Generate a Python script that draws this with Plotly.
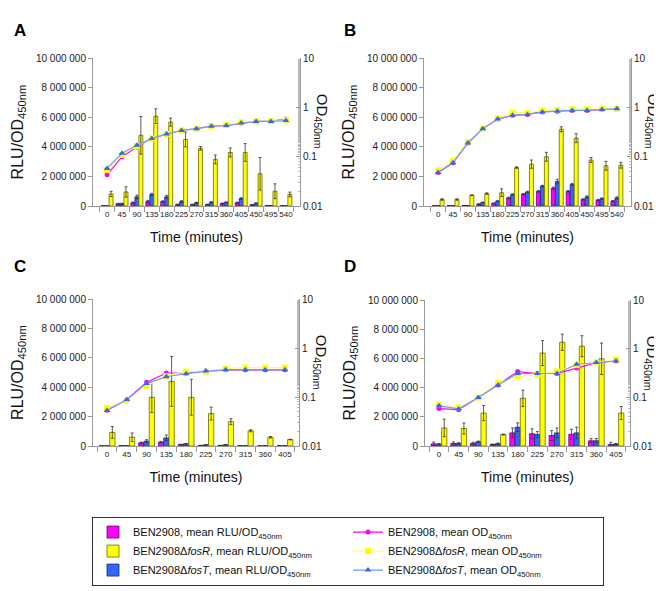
import plotly.graph_objects as go

# ---------------- DATA ----------------
times_AB = ["0", "45", "90", "135", "180", "225", "270", "315", "360", "405", "450", "495", "540"]
times_CD = ["0", "45", "90", "135", "180", "225", "270", "315", "360", "405"]

# Panel A
A_wt_rlu = [0.01, 0.15, 0.22, 0.30, 0.30, 0.10, 0.10, 0.10, 0.17, 0.22, 0.08, 0.03, 0.02]
A_wt_err = [0.0, 0.03, 0.05, 0.08, 0.05, 0.03, 0.02, 0.02, 0.03, 0.04, 0.02, 0.01, 0.01]
A_fosT_rlu = [0.01, 0.15, 0.62, 0.78, 0.62, 0.30, 0.22, 0.25, 0.25, 0.50, 0.18, 0.03, 0.02]
A_fosT_err = [0.0, 0.04, 0.12, 0.08, 0.10, 0.06, 0.03, 0.04, 0.03, 0.06, 0.04, 0.01, 0.01]
A_fosR_rlu = [0.82, 0.95, 4.78, 6.07, 5.67, 4.50, 3.90, 3.15, 3.62, 3.62, 2.18, 1.00, 0.78]
A_fosR_err = [0.18, 0.35, 1.27, 0.50, 0.27, 0.50, 0.12, 0.30, 0.30, 0.60, 1.10, 0.50, 0.16]
A_wt_od = [0.043, 0.10, 0.158, 0.233, 0.29, 0.34, 0.37, 0.417, 0.43, 0.48, 0.52, 0.53, 0.58]
A_fosR_od = [0.054, 0.108, 0.165, 0.233, 0.29, 0.34, 0.37, 0.42, 0.44, 0.50, 0.52, 0.53, 0.56]
A_fosT_od = [0.058, 0.117, 0.17, 0.233, 0.29, 0.34, 0.37, 0.417, 0.43, 0.48, 0.52, 0.52, 0.54]

# Panel B
B_wt_rlu = [0.02, 0.03, 0.03, 0.13, 0.18, 0.55, 0.80, 0.99, 1.21, 0.99, 0.44, 0.40, 0.33]
B_wt_err = [0.0, 0.0, 0.0, 0.02, 0.03, 0.05, 0.05, 0.05, 0.07, 0.05, 0.05, 0.05, 0.04]
B_fosT_rlu = [0.02, 0.03, 0.03, 0.24, 0.33, 0.77, 0.95, 1.35, 1.66, 1.46, 0.62, 0.50, 0.55]
B_fosT_err = [0.0, 0.0, 0.0, 0.03, 0.03, 0.05, 0.05, 0.05, 0.15, 0.07, 0.07, 0.05, 0.07]
B_fosR_rlu = [0.44, 0.44, 0.73, 0.84, 0.90, 2.60, 2.83, 3.33, 5.19, 4.59, 3.11, 2.72, 2.76]
B_fosR_err = [0.05, 0.05, 0.02, 0.05, 0.26, 0.05, 0.28, 0.30, 0.17, 0.30, 0.17, 0.30, 0.20]
B_wt_od = [0.048, 0.075, 0.19, 0.37, 0.58, 0.69, 0.72, 0.81, 0.84, 0.87, 0.87, 0.91, 0.94]
B_fosR_od = [0.053, 0.083, 0.20, 0.37, 0.60, 0.78, 0.78, 0.87, 0.89, 0.92, 0.92, 0.94, 0.95]
B_fosT_od = [0.048, 0.075, 0.19, 0.37, 0.58, 0.69, 0.72, 0.81, 0.84, 0.87, 0.87, 0.91, 0.94]

# Panel C
C_wt_rlu = [0.01, 0.03, 0.22, 0.27, 0.10, 0.04, 0.04, 0.02, 0.01, 0.02]
C_wt_err = [0.0, 0.01, 0.05, 0.05, 0.02, 0.01, 0.01, 0.0, 0.0, 0.0]
C_fosT_rlu = [0.01, 0.02, 0.33, 0.55, 0.15, 0.08, 0.08, 0.02, 0.02, 0.02]
C_fosT_err = [0.0, 0.0, 0.10, 0.20, 0.03, 0.02, 0.02, 0.0, 0.0, 0.0]
C_fosR_rlu = [0.93, 0.60, 3.32, 4.40, 3.32, 2.21, 1.66, 1.04, 0.60, 0.44]
C_fosR_err = [0.40, 0.29, 1.04, 1.70, 1.22, 0.44, 0.20, 0.07, 0.05, 0.02]
C_wt_od = [0.054, 0.089, 0.20, 0.31, 0.31, 0.34, 0.36, 0.36, 0.36, 0.36]
C_fosR_od = [0.060, 0.087, 0.17, 0.27, 0.33, 0.33, 0.38, 0.40, 0.40, 0.40]
C_fosT_od = [0.053, 0.089, 0.19, 0.26, 0.30, 0.34, 0.36, 0.36, 0.36, 0.36]

# Panel D
D_wt_rlu = [0.15, 0.18, 0.18, 0.11, 0.90, 0.84, 0.72, 0.81, 0.36, 0.11]
D_wt_err = [0.12, 0.10, 0.08, 0.03, 0.34, 0.34, 0.34, 0.34, 0.15, 0.15]
D_fosT_rlu = [0.13, 0.18, 0.29, 0.16, 1.29, 0.79, 0.90, 0.90, 0.36, 0.14]
D_fosT_err = [0.05, 0.05, 0.05, 0.05, 0.30, 0.20, 0.34, 0.40, 0.15, 0.03]
D_fosR_rlu = [1.24, 1.20, 2.26, 0.79, 3.27, 6.37, 7.11, 6.84, 5.98, 2.26]
D_fosR_err = [0.60, 0.38, 0.52, 0.03, 0.56, 0.86, 0.56, 0.72, 1.08, 0.45]
D_wt_od = [0.059, 0.056, 0.099, 0.18, 0.34, 0.31, 0.31, 0.40, 0.52, 0.56]
D_fosR_od = [0.072, 0.062, 0.099, 0.20, 0.27, 0.29, 0.34, 0.46, 0.52, 0.60]
D_fosT_od = [0.067, 0.058, 0.099, 0.18, 0.31, 0.31, 0.31, 0.48, 0.52, 0.56]

panel_letters = ["A", "B", "C", "D"]
legend_names_bar = [
    "BEN2908, mean RLU/OD<sub>450nm</sub>",
    "BEN2908Δ<i>fosR</i>, mean RLU/OD<sub>450nm</sub>",
    "BEN2908Δ<i>fosT</i>, mean RLU/OD<sub>450nm</sub>",
]
legend_names_line = [
    "BEN2908, mean OD<sub>450nm</sub>",
    "BEN2908Δ<i>fosR</i>, mean OD<sub>450nm</sub>",
    "BEN2908Δ<i>fosT</i>, mean OD<sub>450nm</sub>",
]

# ---------------- STYLE ----------------
W, H = 662, 591
MAG, YEL, BLU = "#FF00FF", "#FFFF00", "#3366FF"
FONT = "Liberation Sans, Arial, sans-serif"

panels = [
    dict(t=times_AB, wt=A_wt_rlu, wte=A_wt_err, ft=A_fosT_rlu, fte=A_fosT_err, fr=A_fosR_rlu, fre=A_fosR_err,
         wod=A_wt_od, rod=A_fosR_od, tod=A_fosT_od, x0=85, x1=292, y0=45, y1=196),
    dict(t=times_AB, wt=B_wt_rlu, wte=B_wt_err, ft=B_fosT_rlu, fte=B_fosT_err, fr=B_fosR_rlu, fre=B_fosR_err,
         wod=B_wt_od, rod=B_fosR_od, tod=B_fosT_od, x0=416, x1=623, y0=45, y1=196),
    dict(t=times_CD, wt=C_wt_rlu, wte=C_wt_err, ft=C_fosT_rlu, fte=C_fosT_err, fr=C_fosR_rlu, fre=C_fosR_err,
         wod=C_wt_od, rod=C_fosR_od, tod=C_fosT_od, x0=85, x1=291, y0=291, y1=441),
    dict(t=times_CD, wt=D_wt_rlu, wte=D_wt_err, ft=D_fosT_rlu, fte=D_fosT_err, fr=D_fosR_rlu, fre=D_fosR_err,
         wod=D_wt_od, rod=D_fosR_od, tod=D_fosT_od, x0=417, x1=622, y0=292, y1=441),
]

fig = go.Figure()
layout = {}
annotations = []

def scale(v):
    return [a * 1e6 for a in v]

for i, p in enumerate(panels):
    xn = "" if i == 0 else str(i + 1)
    yl = str(2 * i + 1) if i > 0 else ""
    yr = str(2 * i + 2)
    xref, ylref, yrref = "x" + xn, "y" + yl, "y" + yr
    show = i == 0

    err = dict(type="data", color="#333333", thickness=0.8, width=1.5)
    bars = [
        (p["wt"], p["wte"], MAG, "#6a006a", legend_names_bar[0], 1),
        (p["ft"], p["fte"], BLU, "#1a2a70", legend_names_bar[2], 5),
        (p["fr"], p["fre"], YEL, "#6b6b00", legend_names_bar[1], 3),
    ]
    for vals, errs, col, lc, name, rank in bars:
        fig.add_trace(go.Bar(
            x=p["t"], y=scale(vals), name=name, legendgroup=name, showlegend=show, legendrank=rank,
            marker=dict(color=col, line=dict(color=lc, width=0.8)),
            error_y=dict(err, array=scale(errs)),
            xaxis=xref, yaxis=ylref,
        ))
    lines = [
        (p["wod"], MAG, MAG, "circle", 5, legend_names_line[0], 2),
        (p["rod"], "#FFFF66", YEL, "square", 6, legend_names_line[1], 4),
        (p["tod"], "#6f9bff", BLU, "triangle-up", 6, legend_names_line[2], 6),
    ]
    for vals, lcol, mcol, sym, sz, name, rank in lines:
        fig.add_trace(go.Scatter(
            x=p["t"], y=vals, name=name, legendgroup=name, showlegend=show, legendrank=rank,
            mode="lines+markers", line=dict(color=lcol, width=1.2),
            marker=dict(symbol=sym, size=sz, color=mcol),
            xaxis=xref, yaxis=yrref,
        ))

    xd = [p["x0"] / W, p["x1"] / W]
    yd = [1 - p["y1"] / H, 1 - p["y0"] / H]
    layout["xaxis" + xn] = dict(
        domain=xd, anchor=ylref, type="category", tickson="boundaries", tickangle=0,
        ticks="outside", ticklen=5, tickcolor="#999999", showline=True, linecolor="#999999",
        linewidth=1, tickfont=dict(size=8, color="#222222", family=FONT), showgrid=False,
        title=dict(text="Time (minutes)", font=dict(size=14, color="#111111", family=FONT), standoff=14),
    )
    layout["yaxis" + yl] = dict(
        domain=yd, anchor=xref, range=[0, 10e6], tickvals=[0, 2e6, 4e6, 6e6, 8e6, 10e6],
        tickformat=",d", ticks="outside", ticklen=4, tickcolor="#999999", showline=True,
        linecolor="#999999", linewidth=1, showgrid=False, zeroline=False,
        tickfont=dict(size=10, color="#222222", family=FONT),
        title=dict(text="RLU/OD<sub>450nm</sub>", font=dict(size=16, color="#111111", family=FONT), standoff=8),
    )
    layout["yaxis" + yr] = dict(
        overlaying=ylref, anchor=xref, side="right", type="log", range=[-2, 1],
        tickvals=[0.01, 0.1, 1, 10], ticktext=["0.01", "0.1", "1", "10"],
        ticks="inside", ticklen=4, tickcolor="#999999", showline=True, linecolor="#999999",
        linewidth=1, showgrid=False, tickfont=dict(size=10, color="#222222", family=FONT),
        minor=dict(ticks="inside", ticklen=2, tickcolor="#bbbbbb", showgrid=False),
    )
    # right-axis title reading top-to-bottom
    annotations.append(dict(
        text="OD<sub>450nm</sub>", x=(p["x1"] + 21) / W, y=1 - (p["y0"] + 64) / H,
        xref="paper", yref="paper", showarrow=False, textangle=90,
        font=dict(size=15, color="#111111", family=FONT), xanchor="center", yanchor="middle",
    ))
    # panel letters
    annotations.append(dict(
        text="<b>" + panel_letters[i] + "</b>", x=(4 if i % 2 == 0 else 334) / W,
        y=1 - (5 if i < 2 else 246) / H, xref="paper", yref="paper", showarrow=False,
        xanchor="left", yanchor="top", font=dict(size=17, color="#000000", family=FONT),
    ))

fig.update_layout(
    **layout,
    annotations=annotations,
    width=W, height=H, margin=dict(l=0, r=0, t=0, b=0),
    paper_bgcolor="white", plot_bgcolor="rgba(0,0,0,0)",
    barmode="group", bargap=0.2, bargroupgap=0.0,
    separators=". ",
    font=dict(family=FONT, color="#111111"),
    legend=dict(
        orientation="h", x=84 / W, y=1 - 513 / H, xanchor="left", yanchor="top",
        bordercolor="#333333", borderwidth=1, bgcolor="white",
        entrywidth=210, entrywidthmode="pixels",
        font=dict(size=11, family=FONT, color="#111111"),
        traceorder="normal", itemwidth=30,
    ),
)

fig.write_html("out.html")
